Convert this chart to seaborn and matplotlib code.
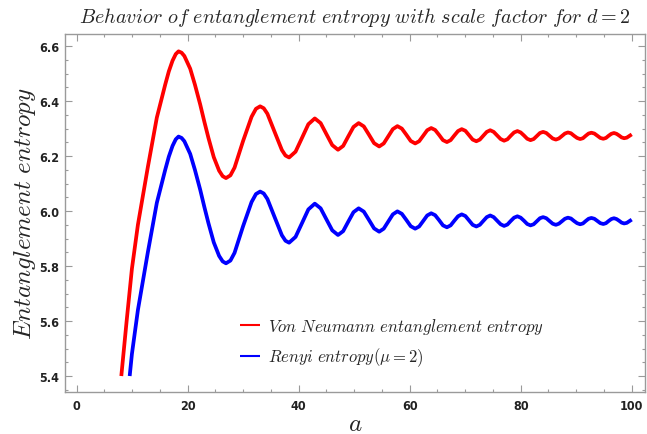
import matplotlib
matplotlib.use("Agg")
import matplotlib.pyplot as plt
import seaborn as sns
import pandas as pd
from matplotlib.ticker import MultipleLocator, FormatStrFormatter

# ---- data ----
a_rise_red = [8.04, 9.0, 9.95, 11.03, 12.82, 14.44, 15.95, 16.6, 17.27, 17.85]
red_rise = [5.40, 5.60, 5.79, 5.95, 6.16, 6.34, 6.46, 6.508, 6.547, 6.571]
a_rise_blue = [9.55, 9.95, 11.03, 12.82, 14.44, 15.95, 16.6, 17.27, 17.85]
blue_rise = [5.40, 5.48, 5.64, 5.85, 6.03, 6.15, 6.198, 6.237, 6.261]

a_osc = [18.35, 18.9, 19.4, 20.45, 21.3, 22.25, 23.0, 23.74, 24.7, 25.66, 26.3,
         26.9, 27.7, 28.44, 29.98, 31.51, 32.3,
         33.05, 33.70, 34.36, 35.66, 36.97, 37.62,
         38.27, 39.43, 40.59, 41.74,
         42.9, 43.95, 44.99, 46.04,
         47.08, 48.01, 48.94, 49.87,
         50.8, 51.73, 52.65, 53.58,
         54.5, 55.32, 56.14, 56.96,
         57.78, 58.58, 59.38, 60.18,
         60.98, 61.70, 62.43, 63.15,
         63.87, 64.58, 65.29, 65.99,
         66.7, 67.37, 68.04, 68.70,
         69.37, 70.03, 70.69, 71.34,
         72.0, 72.63, 73.25, 73.88,
         74.5, 75.13, 75.75, 76.38,
         77.0, 77.6, 78.2, 78.8,
         79.4, 79.99, 80.58, 81.17,
         81.76, 82.33, 82.90, 83.46,
         84.03, 84.61, 85.18, 85.76,
         86.33, 86.87, 87.42, 87.96,
         88.5, 89.05, 89.6, 90.15,
         90.7, 91.21, 91.72, 92.22,
         92.73, 93.27, 93.81, 94.34,
         94.88, 95.36, 95.84, 96.32,
         96.8, 97.26, 97.71, 98.17,
         98.62, 99.1, 99.55, 100.0]

red_osc = [6.581, 6.576, 6.564, 6.518, 6.46, 6.388, 6.325, 6.266, 6.196, 6.147, 6.127,
           6.120, 6.130, 6.158, 6.255, 6.343, 6.372,
           6.381, 6.374, 6.354, 6.288, 6.222, 6.202,
           6.195, 6.216, 6.266, 6.316,
           6.337, 6.320, 6.280, 6.240,
           6.223, 6.237, 6.272, 6.306,
           6.320, 6.308, 6.278, 6.247,
           6.235, 6.246, 6.272, 6.298,
           6.309, 6.300, 6.278, 6.255,
           6.246, 6.254, 6.274, 6.294,
           6.302, 6.295, 6.277, 6.258,
           6.251, 6.258, 6.275, 6.291,
           6.298, 6.292, 6.276, 6.260,
           6.254, 6.260, 6.274, 6.288,
           6.294, 6.288, 6.275, 6.262,
           6.256, 6.261, 6.274, 6.286,
           6.291, 6.286, 6.275, 6.263,
           6.258, 6.262, 6.273, 6.284,
           6.288, 6.284, 6.274, 6.264,
           6.260, 6.264, 6.273, 6.282,
           6.286, 6.283, 6.274, 6.266,
           6.262, 6.265, 6.274, 6.282,
           6.285, 6.282, 6.274, 6.266,
           6.263, 6.266, 6.274, 6.281,
           6.284, 6.281, 6.275, 6.268,
           6.265, 6.267, 6.273, 6.279]

blue_osc = [6.271, 6.266, 6.254, 6.208, 6.15, 6.078, 6.015, 5.956, 5.886, 5.837, 5.817,
            5.810, 5.820, 5.848, 5.945, 6.033, 6.062,
            6.071, 6.064, 6.044, 5.978, 5.912, 5.892,
            5.885, 5.906, 5.956, 6.006,
            6.027, 6.010, 5.970, 5.930,
            5.913, 5.927, 5.962, 5.996,
            6.010, 5.998, 5.968, 5.937,
            5.925, 5.936, 5.962, 5.988,
            5.999, 5.990, 5.968, 5.945,
            5.936, 5.944, 5.964, 5.984,
            5.992, 5.985, 5.967, 5.948,
            5.941, 5.948, 5.965, 5.981,
            5.988, 5.982, 5.966, 5.950,
            5.944, 5.950, 5.964, 5.978,
            5.984, 5.978, 5.965, 5.952,
            5.946, 5.951, 5.964, 5.976,
            5.981, 5.976, 5.965, 5.953,
            5.948, 5.952, 5.963, 5.974,
            5.978, 5.974, 5.964, 5.954,
            5.950, 5.954, 5.963, 5.972,
            5.976, 5.973, 5.964, 5.956,
            5.952, 5.955, 5.964, 5.972,
            5.975, 5.972, 5.964, 5.956,
            5.953, 5.956, 5.964, 5.971,
            5.974, 5.971, 5.965, 5.958,
            5.955, 5.957, 5.963, 5.969]

labels = [r"$Von\ Neumann\ entanglement\ entropy$", r"$Renyi\ entropy(\mu=2)$"]
x_ticks = [0, 20, 40, 60, 80, 100]
y_ticks = [5.4, 5.6, 5.8, 6.0, 6.2, 6.4, 6.6]

# ---- build table ----
df = pd.concat([
    pd.DataFrame({"a": a_rise_red + a_osc, "S": red_rise + red_osc, "series": labels[0]}),
    pd.DataFrame({"a": a_rise_blue + a_osc, "S": blue_rise + blue_osc, "series": labels[1]}),
], ignore_index=True)

sns.set_style("ticks")
plt.rcParams["mathtext.fontset"] = "cm"
plt.rcParams["font.family"] = ["DejaVu Sans"]

fig = plt.figure(figsize=(6.47, 4.35), dpi=100)
ax = fig.add_axes([0.1005, 0.0966, 0.8965, 0.8229])

sns.lineplot(data=df, x="a", y="S", hue="series", palette=["#ff0000", "#0000ff"],
             estimator=None, sort=False, linewidth=2.7, ax=ax)
for ln in ax.get_lines():
    ln.set_solid_joinstyle("round")
    ln.set_solid_capstyle("butt")

ax.set_xlim(-2.1, 102.4)
ax.set_ylim(5.342, 6.644)
ax.set_xticks(x_ticks)
ax.set_yticks(y_ticks)
ax.yaxis.set_major_formatter(FormatStrFormatter("%.1f"))
ax.xaxis.set_minor_locator(MultipleLocator(5))
ax.yaxis.set_minor_locator(MultipleLocator(0.05))

frame_col = "#9a9a9a"
for s in ax.spines.values():
    s.set_color(frame_col)
    s.set_linewidth(1.0)
ax.tick_params(which="both", direction="in", top=True, right=True,
               color=frame_col, width=0.8)
ax.tick_params(which="major", length=5)
ax.tick_params(which="minor", length=2.5)
for lab in ax.get_xticklabels() + ax.get_yticklabels():
    lab.set_fontweight("bold")
    lab.set_fontsize(9)
    lab.set_color("#222222")
    lab.set_fontstretch("condensed")
ax.tick_params(axis="x", pad=5)
ax.tick_params(axis="y", pad=4)

ax.set_title(r"$Behavior\ of\ entanglement\ entropy\ with\ scale\ factor\ for\ d=2$",
             fontsize=14.5, pad=9)
ax.set_xlabel(r"$a$", fontsize=18, labelpad=-1)
ax.set_ylabel(r"$Entanglement\ entropy$", fontsize=18, labelpad=1)

leg = ax.legend(loc="upper left", bbox_to_anchor=(0.275, 0.255), frameon=False,
                fontsize=12, handlelength=1.2, handletextpad=0.5, labelspacing=0.6)
for ln in leg.get_lines():
    ln.set_linewidth(1.5)

fig.savefig("out.png", dpi=100)
